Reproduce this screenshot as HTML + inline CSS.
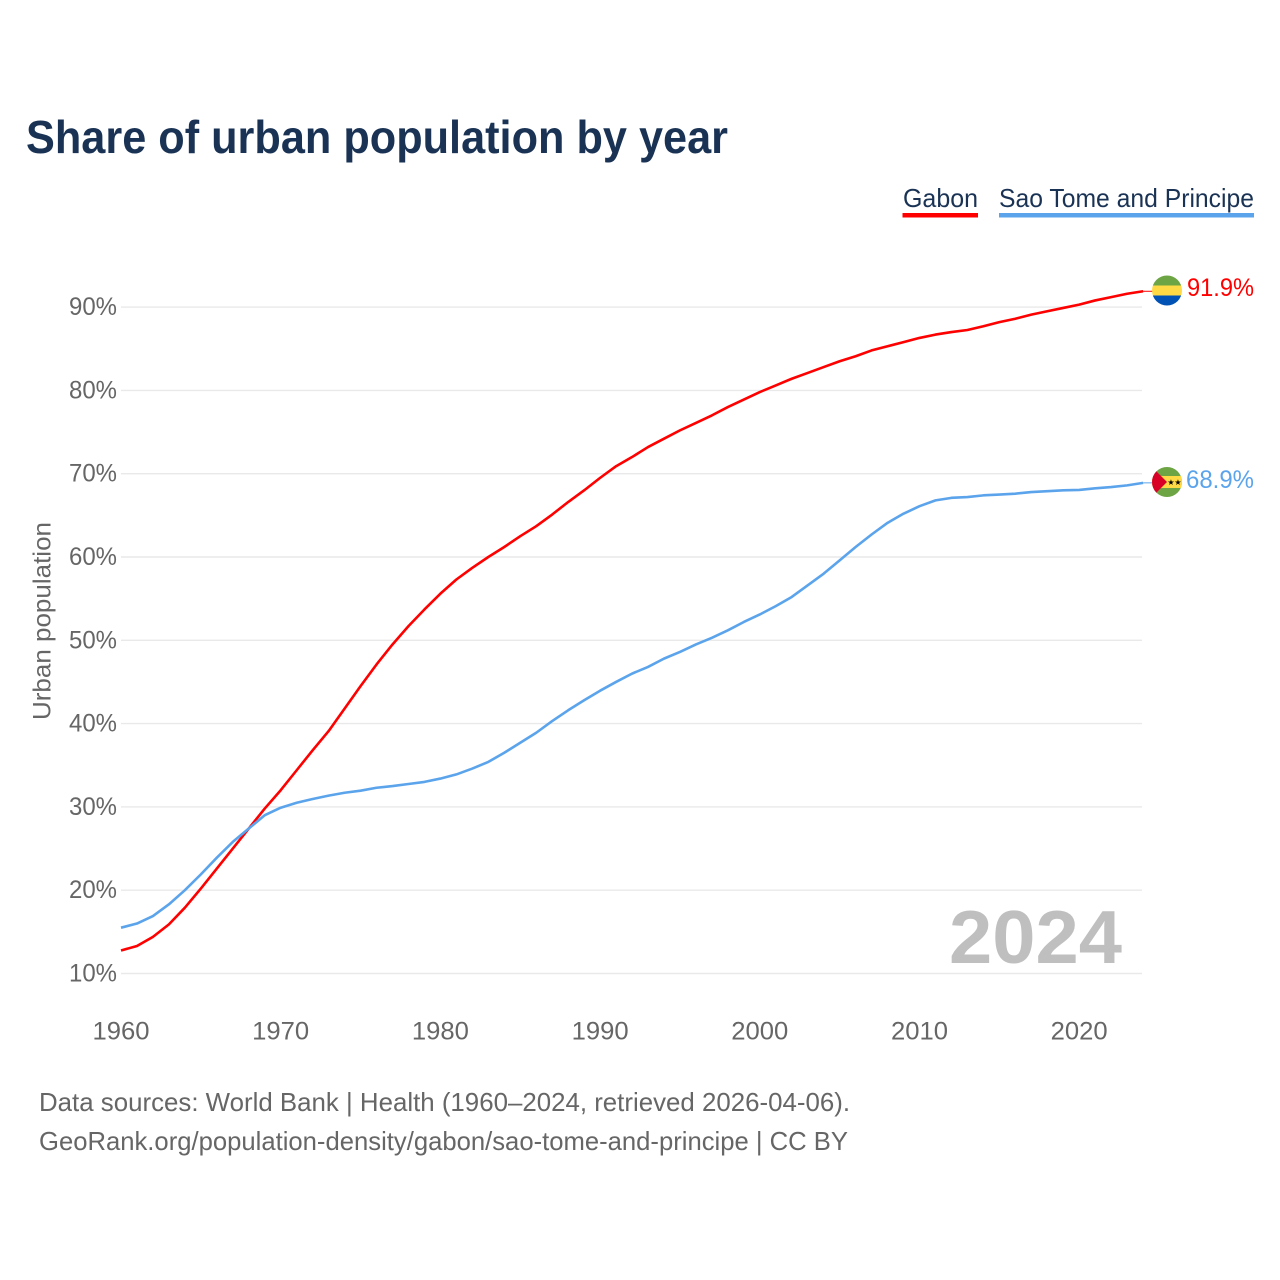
<!DOCTYPE html>
<html lang="en">
<head>
<meta charset="utf-8">
<title>Share of urban population by year</title>
<style>
html,body{margin:0;padding:0;background:#fff;}
svg{display:block;font-family:"Liberation Sans",Arial,sans-serif;}
</style>
</head>
<body>
<svg id="chart" xmlns="http://www.w3.org/2000/svg" width="1280" height="1280" viewBox="0 0 1280 1280">
  <defs>
    <clipPath id="flag-clip-a"><circle cx="1167" cy="290.5" r="15"/></clipPath>
    <clipPath id="flag-clip-b"><circle cx="1167" cy="482" r="15"/></clipPath>
  </defs>
  <rect x="0" y="0" width="1280" height="1280" fill="#fff"/>
  <text x="26" y="153" font-size="46" font-weight="700" fill="#1a3355" textLength="702" lengthAdjust="spacingAndGlyphs">Share of urban population by year</text>

  <g>
    <text x="903" y="207" font-size="26" fill="#1a3355" textLength="75" lengthAdjust="spacingAndGlyphs">Gabon</text>
    <rect x="902.5" y="213" width="75.5" height="4.5" fill="#ff0000"/>
  </g>
  <g>
    <text x="999" y="207" font-size="26" fill="#1a3355" textLength="255" lengthAdjust="spacingAndGlyphs">Sao Tome and Principe</text>
    <rect x="999" y="213" width="255" height="4.5" fill="#5ba4ec"/>
  </g>

  <g id="grid"></g>
  <g id="y-axis"></g>
  <g id="x-axis"></g>

  <text x="0" y="0" transform="translate(50.5 621) rotate(-90)" text-anchor="middle" font-size="25" fill="#666" textLength="198" lengthAdjust="spacingAndGlyphs">Urban population</text>

  <text x="949" y="963" font-size="75" font-weight="700" fill="#bfbfbf" textLength="173" lengthAdjust="spacingAndGlyphs">2024</text>

  <g id="series"></g>

  <g clip-path="url(#flag-clip-a)">
    <rect x="1152" y="275.5" width="30" height="10" fill="#6da544"/>
    <rect x="1152" y="285.5" width="30" height="10" fill="#ffda44"/>
    <rect x="1152" y="295.5" width="30" height="10" fill="#0052b4"/>
  </g>
  <g clip-path="url(#flag-clip-b)">
    <rect x="1152" y="467" width="30" height="30" fill="#6da544"/>
    <rect x="1152" y="476" width="30" height="12" fill="#ffda44"/>
    <polygon points="1152,467 1167,482 1152,497" fill="#d80027"/>
    <text x="1171" y="485" font-size="8" fill="#000" text-anchor="middle">★</text>
    <text x="1178" y="485" font-size="8" fill="#000" text-anchor="middle">★</text>
  </g>

  <text x="1187" y="296" font-size="25" fill="#ff0000" textLength="67" lengthAdjust="spacingAndGlyphs">91.9%</text>
  <text x="1186" y="488" font-size="25" fill="#5ba4ec" textLength="68" lengthAdjust="spacingAndGlyphs">68.9%</text>

  <text x="39" y="1111" font-size="26" fill="#666" textLength="811" lengthAdjust="spacingAndGlyphs">Data sources: World Bank | Health (1960–2024, retrieved 2026-04-06).</text>
  <text x="39" y="1150" font-size="26" fill="#666" textLength="809" lengthAdjust="spacingAndGlyphs">GeoRank.org/population-density/gabon/sao-tome-and-principe | CC BY</text>
</svg>
<script>
const startYear = 1960;
const yTicks = [10, 20, 30, 40, 50, 60, 70, 80, 90];
const xTicks = [1960, 1970, 1980, 1990, 2000, 2010, 2020];
const gabonValues = [12.76, 13.3, 14.4, 15.9, 17.9, 20.2, 22.6, 25.0, 27.4, 29.8,
  32.0, 34.4, 36.8, 39.1, 41.8, 44.5, 47.1, 49.5, 51.7, 53.7,
  55.6, 57.3, 58.7, 60.0, 61.2, 62.5, 63.7, 65.1, 66.6, 68.0,
  69.5, 70.9, 72.0, 73.2, 74.2, 75.2, 76.1, 77.0, 78.0, 78.9,
  79.8, 80.6, 81.4, 82.1, 82.8, 83.5, 84.1, 84.8, 85.3, 85.8,
  86.3, 86.7, 87.0, 87.25, 87.7, 88.2, 88.6, 89.1, 89.5, 89.9,
  90.3, 90.8, 91.2, 91.6, 91.9];
const saoTomeValues = [15.5, 16.0, 16.9, 18.3, 20.0, 21.9, 23.9, 25.8, 27.4, 29.0,
  29.9, 30.5, 30.95, 31.35, 31.7, 31.95, 32.3, 32.5, 32.75, 33.0,
  33.4, 33.9, 34.6, 35.4, 36.5, 37.7, 38.9, 40.3, 41.6, 42.8,
  43.95, 45.0, 46.0, 46.8, 47.8, 48.6, 49.5, 50.3, 51.2, 52.2,
  53.1, 54.1, 55.2, 56.6, 58.0, 59.6, 61.2, 62.7, 64.1, 65.2,
  66.1, 66.8, 67.1, 67.2, 67.4, 67.5, 67.6, 67.8, 67.9, 68.0,
  68.05, 68.25, 68.4, 68.6, 68.9];

const NS = 'http://www.w3.org/2000/svg';
function xScale(year) { return 121 + (year - 1960) * 15.97; }
function yScale(value) { return 973.5 - (value - 10) * 8.33; }

const gridGroup = document.getElementById('grid');
const yAxisGroup = document.getElementById('y-axis');
const xAxisGroup = document.getElementById('x-axis');
const seriesGroup = document.getElementById('series');

yTicks.forEach(function (tick) {
  const line = document.createElementNS(NS, 'line');
  
  
  line.setAttribute('x1', 121);
  line.setAttribute('x2', 1142);
  line.setAttribute('y1', yScale(tick));
  line.setAttribute('y2', yScale(tick));
  line.setAttribute('stroke', '#e9e9e9');
  line.setAttribute('stroke-width', '1.4');
  gridGroup.appendChild(line);

  const label = document.createElementNS(NS, 'text');
  
  
  label.setAttribute('x', 69);
  label.setAttribute('y', yScale(tick) + 8);
  label.setAttribute('font-size', '25');
  label.setAttribute('fill', '#666');
  label.setAttribute('textLength', '48');
  label.setAttribute('lengthAdjust', 'spacingAndGlyphs');
  label.textContent = tick + '%';
  yAxisGroup.appendChild(label);
});

xTicks.forEach(function (tick) {
  const label = document.createElementNS(NS, 'text');
  
  
  label.setAttribute('x', xScale(tick) - 28.5);
  label.setAttribute('y', 1039.5);
  label.setAttribute('font-size', '25');
  label.setAttribute('fill', '#666');
  label.setAttribute('textLength', '57');
  label.setAttribute('lengthAdjust', 'spacingAndGlyphs');
  label.textContent = tick;
  xAxisGroup.appendChild(label);
});

function linePoints(values) {
  return values.map(function (value, i) {
    return xScale(startYear + i).toFixed(2) + ',' + yScale(value).toFixed(2);
  }).join(' ');
}

function drawConnector(values, color) {
  const y = yScale(values[values.length - 1]);
  const x = xScale(startYear + values.length - 1);
  const connector = document.createElementNS(NS, 'line');
  
  
  connector.setAttribute('x1', x);
  connector.setAttribute('x2', x + 10);
  connector.setAttribute('y1', y);
  connector.setAttribute('y2', y);
  connector.setAttribute('stroke', color);
  connector.setAttribute('stroke-width', '1');
  seriesGroup.appendChild(connector);
}

const gabonLine = document.createElementNS(NS, 'polyline');


gabonLine.setAttribute('points', linePoints(gabonValues));
gabonLine.setAttribute('fill', 'none');
gabonLine.setAttribute('stroke', '#ff0000');
gabonLine.setAttribute('stroke-width', '2.6');
gabonLine.setAttribute('stroke-linejoin', 'round');
seriesGroup.appendChild(gabonLine);
drawConnector(gabonValues, '#ff0000');

const saoTomeLine = document.createElementNS(NS, 'polyline');


saoTomeLine.setAttribute('points', linePoints(saoTomeValues));
saoTomeLine.setAttribute('fill', 'none');
saoTomeLine.setAttribute('stroke', '#5ba4ec');
saoTomeLine.setAttribute('stroke-width', '2.6');
saoTomeLine.setAttribute('stroke-linejoin', 'round');
seriesGroup.appendChild(saoTomeLine);
drawConnector(saoTomeValues, '#5ba4ec');
</script>
</body>
</html>
